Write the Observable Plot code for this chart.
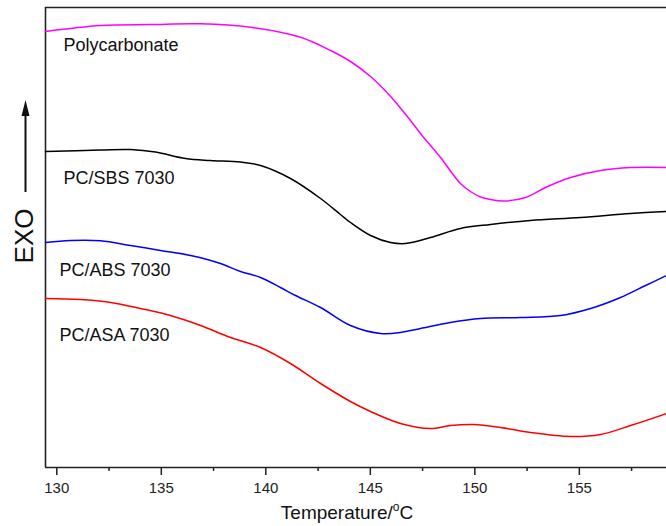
<!DOCTYPE html>
<html>
<head>
<meta charset="utf-8">
<script src="https://cdn.jsdelivr.net/npm/d3@7"></script>
<script src="https://cdn.jsdelivr.net/npm/@observablehq/plot@0.6"></script>
<style>
  html, body { margin: 0; padding: 0; background: #fff; }
  #chart { width: 666px; height: 526px; }
  svg { font-family: "Liberation Sans", Arial, sans-serif; }
</style>
</head>
<body>
<div id="chart"></div>
<script>
// Temperature (°C) sample points and EXO signal (arbitrary units)
const pcT   = [129.46,132.09,134.48,136.88,139.27,141.66,143.10,144.05,145.01,145.97,146.92,147.55,147.88,148.36,149.31,149.79,150.27,150.75,151.37,152.43,153.38,154.58,156.01,157.45,159.17];
const pcV   = [436,442,443,443.7,440.3,430.3,417,406,391,371,347,330,322,310,284,276,270.5,268,266.5,270,280,290,297,300,300];

const sbsT  = [129.46,132.09,133.53,134.72,136.16,137.35,138.79,139.75,141.18,142.62,143.57,144.05,145.01,145.97,146.68,147.88,149.31,150.75,152.66,155.06,157.45,159.17];
const sbsV  = [316,317.5,318,315.5,309,307,305.5,302,289,269,253,245,232,225,224,230,239,243,247,250,254,256];

const absT  = [129.46,130.66,132.09,133.53,134.96,136.40,137.83,138.79,139.75,140.70,141.42,142.62,144.05,145.49,146.44,147.40,148.83,150.27,152.19,154.10,155.54,156.97,158.17,159.17];
const absV  = [225,227,226.7,222,217,212,204,196,190,180,172,160,142,134,135,139,145,149,150,152,159,170,182,192];

const asaT  = [129.46,131.13,132.57,134.00,135.44,136.88,138.31,139.75,141.18,142.62,144.05,145.01,146.44,147.88,148.83,149.94,151.23,152.66,154.58,156.01,157.45,159.17];
const asaV  = [169,168,165,159,152,142,130,120,104,84,66,56,44,39,42,43,40,35,31,33,42,54];

const seriesNames  = ["Polycarbonate", "PC/SBS 7030", "PC/ABS 7030", "PC/ASA 7030"];
const seriesColors = ["#ff00ff", "#000000", "#0000ff", "#ff0000"];
const labelT = [130.32, 130.32, 130.13, 130.13];
const labelV = [422, 289, 197, 132];

const majorTicks = [130, 135, 140, 145, 150, 155];
const minorTicks = [132.5, 137.5, 142.5, 147.5, 152.5, 157.5];
const xDomain = [129.46, 159.17];
const yDomain = [0, 460];

const allT = [pcT, sbsT, absT, asaT];
const allV = [pcV, sbsV, absV, asaV];
const rows = [];
allT.forEach((ts, i) => ts.forEach((t, j) => rows.push({series: seriesNames[i], t, v: allV[i][j]})));
const labels = seriesNames.map((s, i) => ({series: s, t: labelT[i], v: labelV[i]}));

const chart = Plot.plot({
  width: 666,
  height: 526,
  marginLeft: 45,
  marginTop: 7,
  marginBottom: 59,
  marginRight: 0,
  style: {fontFamily: '"Liberation Sans", Arial, sans-serif', background: "#fff"},
  x: {domain: xDomain},
  y: {domain: yDomain, axis: null},
  color: {domain: seriesNames, range: seriesColors},
  marks: [
    Plot.ruleX([xDomain[0]], {stroke: "#222", strokeWidth: 1.6}),
    Plot.ruleY([yDomain[1]], {stroke: "#222", strokeWidth: 1.6}),
    Plot.ruleY([yDomain[0]], {stroke: "#222", strokeWidth: 1.6}),
    Plot.axisX({ticks: majorTicks, tickSize: 8, tickPadding: 7, label: null, fontSize: 15, stroke: "#222", strokeWidth: 1.5, color: "#222"}),
    Plot.axisX({ticks: minorTicks, tickSize: 4, tickFormat: () => "", label: null, stroke: "#222", strokeWidth: 1.5}),
    Plot.line(rows, {x: "t", y: "v", z: "series", stroke: "series", strokeWidth: 1.5, curve: "catmull-rom"}),
    Plot.text(labels, {x: "t", y: "v", text: "series", textAnchor: "start", fontSize: 18, fill: "#111"})
  ]
});
document.getElementById("chart").appendChild(chart);

// axis title and EXO label with arrow
const svg = d3.select(chart);
const xt = svg.append("text")
  .attr("x", 347).attr("y", 519)
  .attr("text-anchor", "middle")
  .attr("font-size", 19)
  .attr("fill", "#111")
  .attr("font-family", '"Liberation Sans", Arial, sans-serif');
xt.append("tspan").text("Temperature/");
xt.append("tspan").attr("font-size", 12).attr("dy", -8).text("o");
xt.append("tspan").attr("dy", 8).text("C");

svg.append("text")
  .attr("transform", "translate(33,236) rotate(-90)")
  .attr("text-anchor", "middle")
  .attr("font-size", 26)
  .attr("fill", "#111")
  .attr("font-family", '"Liberation Sans", Arial, sans-serif')
  .text("EXO");

svg.append("line")
  .attr("x1", 25.5).attr("x2", 25.5).attr("y1", 192).attr("y2", 112)
  .attr("stroke", "#111").attr("stroke-width", 2);
svg.append("path")
  .attr("d", "M25.5,100 L21.5,116 L29.5,116 Z")
  .attr("fill", "#111");
</script>
</body>
</html>
